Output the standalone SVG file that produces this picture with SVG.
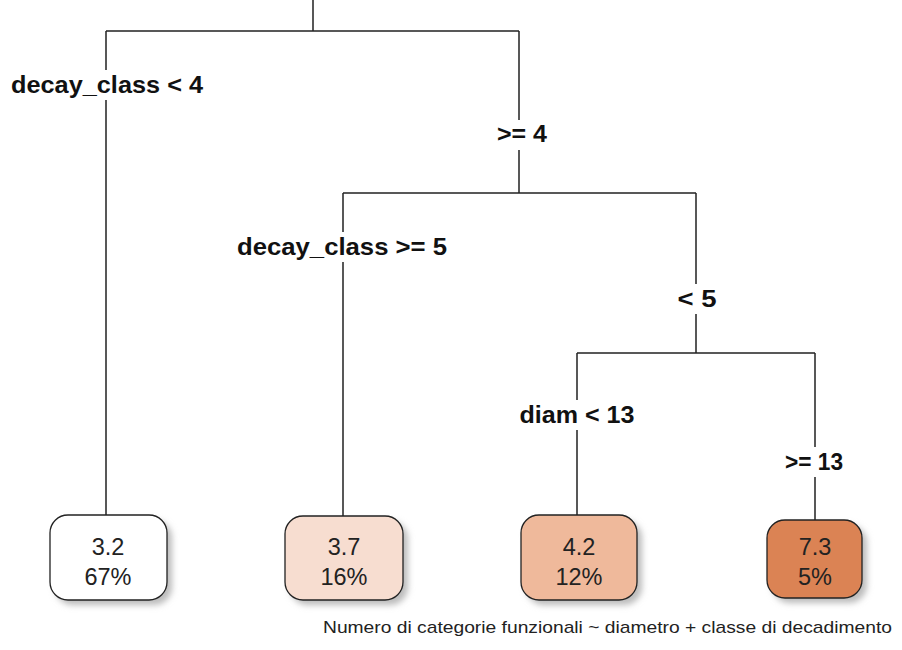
<svg xmlns="http://www.w3.org/2000/svg" width="902" height="650" viewBox="0 0 902 650">
<style>
.edge{stroke:#222;stroke-width:1.5;fill:none}
.lbl{font-family:"Liberation Sans",Arial,sans-serif;font-weight:bold;font-size:24px;fill:#111;text-anchor:middle}
.lblbg{fill:#fff}
.box{stroke:#222;stroke-width:1.3}
.val{font-family:"Liberation Sans",Arial,sans-serif;font-size:23.5px;fill:#222;text-anchor:middle}
.sub{font-family:"Liberation Sans",Arial,sans-serif;font-size:17px;fill:#222}
</style>
<defs>
<filter id="sh" x="-20%" y="-20%" width="150%" height="150%">
<feGaussianBlur stdDeviation="3"/>
</filter>
</defs>
<rect width="902" height="650" fill="#fff"/>
<g id="connectors">
<path class="edge" d="M313,0 V31 M106,31 H519 M106,31 V515 M519,31 V193 M343,193 H696 M343,193 V516 M696,193 V353 M577,353 H815 M577,353 V515 M815,353 V520"/>
</g>
<g id="split-labels">
<rect class="lblbg" x="8" y="70" width="198" height="30"/>
<text class="lbl" x="107" y="93" textLength="192" lengthAdjust="spacingAndGlyphs">decay_class &lt; 4</text>
<rect class="lblbg" x="494" y="120" width="54" height="30"/>
<text class="lbl" x="522" y="142" textLength="50" lengthAdjust="spacingAndGlyphs">&gt;= 4</text>
<rect class="lblbg" x="234" y="232" width="216" height="30"/>
<text class="lbl" x="342" y="255" textLength="210" lengthAdjust="spacingAndGlyphs">decay_class &gt;= 5</text>
<rect class="lblbg" x="675" y="284" width="45" height="30"/>
<text class="lbl" x="697" y="307" textLength="39" lengthAdjust="spacingAndGlyphs">&lt; 5</text>
<rect class="lblbg" x="517" y="400" width="121" height="30"/>
<text class="lbl" x="577" y="423" textLength="115" lengthAdjust="spacingAndGlyphs">diam &lt; 13</text>
<rect class="lblbg" x="782" y="447" width="64" height="30"/>
<text class="lbl" x="814" y="470" textLength="58" lengthAdjust="spacingAndGlyphs">&gt;= 13</text>
</g>
<g id="leaf1">
<rect x="55" y="520" width="117" height="85" rx="18" fill="#bbb" filter="url(#sh)"/>
<rect class="box" x="50" y="515" width="117" height="85" rx="18" fill="#ffffff"/>
<text class="val" x="108" y="555">3.2</text>
<text class="val" x="108" y="585">67%</text>
</g>
<g id="leaf2">
<rect x="290" y="521" width="118" height="84" rx="18" fill="#bbb" filter="url(#sh)"/>
<rect class="box" x="285" y="516" width="118" height="84" rx="18" fill="#f7ddd0"/>
<text class="val" x="344" y="555">3.7</text>
<text class="val" x="344" y="585">16%</text>
</g>
<g id="leaf3">
<rect x="526" y="520" width="116" height="85" rx="18" fill="#bbb" filter="url(#sh)"/>
<rect class="box" x="521" y="515" width="116" height="85" rx="18" fill="#efb99b"/>
<text class="val" x="579" y="555">4.2</text>
<text class="val" x="579" y="585">12%</text>
</g>
<g id="leaf4">
<rect x="772" y="525" width="95" height="78" rx="18" fill="#bbb" filter="url(#sh)"/>
<rect class="box" x="767" y="520" width="95" height="78" rx="18" fill="#db8354"/>
<text class="val" x="815" y="555">7.3</text>
<text class="val" x="815" y="585">5%</text>
</g>
<text class="sub" x="323" y="633" textLength="569" lengthAdjust="spacingAndGlyphs">Numero di categorie funzionali ~ diametro + classe di decadimento</text>
</svg>
